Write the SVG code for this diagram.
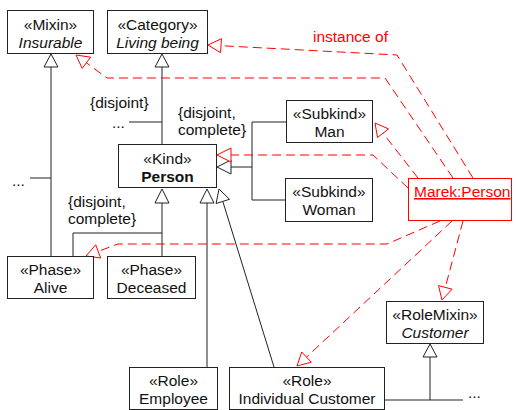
<svg xmlns="http://www.w3.org/2000/svg" width="516" height="410" viewBox="0 0 516 410">
<style>
  text { font-family: "Liberation Sans", Arial, sans-serif; font-size: 15.5px; fill: #111; }
  .c { text-anchor: middle; }
  .it { font-style: italic; }
  .b { font-weight: bold; }
  .box { fill: #fff; stroke: #222; stroke-width: 1; }
  .ln { fill: none; stroke: #222; stroke-width: 1; }
  .tri { fill: #fff; stroke: #222; stroke-width: 1; }
  .rd { fill: none; stroke: #ff0000; stroke-width: 1; stroke-dasharray: 9 5; }
  .rtri { fill: #fff; stroke: #ff0000; stroke-width: 1; }
  .red { fill: #ff0000; }
</style>
<rect width="516" height="410" fill="#fff"/>

<g id="connectors">
  <!-- generalizations -->
  <line class="ln" x1="51" y1="67" x2="51" y2="256"/>
  <line class="ln" x1="30" y1="178" x2="51" y2="178"/>
  <polygon class="tri" points="51,54 44,67 58,67"/>

  <line class="ln" x1="162" y1="67" x2="162" y2="144"/>
  <line class="ln" x1="129" y1="122" x2="162" y2="122"/>
  <polygon class="tri" points="162,54 155,67 169,67"/>

  <polyline class="ln" points="231,167 252,167"/>
  <line class="ln" x1="252" y1="122" x2="252" y2="200"/>
  <line class="ln" x1="252" y1="122" x2="286" y2="122"/>
  <line class="ln" x1="252" y1="200" x2="285" y2="200"/>
  <polygon class="tri" points="217,167 231,160 231,174"/>

  <line class="ln" x1="162" y1="203" x2="162" y2="256"/>
  <polyline class="ln" points="162,233 73,233 73,256"/>
  <polygon class="tri" points="162,189 155,203 169,203"/>

  <line class="ln" x1="207" y1="203" x2="207" y2="367"/>
  <polygon class="tri" points="207,189 200,203 214,203"/>

  <line class="ln" x1="222.8" y1="201.4" x2="274" y2="367"/>
  <polygon class="tri" points="219,189 216.1,203.5 229.5,199.3"/>

  <line class="ln" x1="430" y1="357" x2="430" y2="400"/>
  <line class="ln" x1="384" y1="400" x2="463" y2="400"/>
  <polygon class="tri" points="430,344 423,357 437,357"/>

  <!-- instance-of (red dashed) -->
  <polyline class="rd" points="473,178 397,55 221,45.7"/>
  <polygon class="rtri" points="208,45 220.6,52.7 221.4,38.7"/>

  <polyline class="rd" points="453,178 385,78 107,78 86.4,62.8"/>
  <polygon class="rtri" points="76,55 82.2,68.4 90.6,57.2"/>

  <line class="rd" x1="418" y1="178" x2="383" y2="133.2"/>
  <polygon class="rtri" points="375,123 377.5,137.5 388.5,128.9"/>

  <polyline class="rd" points="408,188 373,155 231,155"/>
  <polygon class="rtri" points="217,155 231,148 231,162"/>

  <polyline class="rd" points="440,221 387,244 118,244 98.2,251.4"/>
  <polygon class="rtri" points="86,256 95.7,244.8 100.7,258"/>

  <line class="rd" x1="452" y1="221" x2="306.5" y2="357.1"/>
  <polygon class="rtri" points="297,366 301.7,352 311.3,362.2"/>

  <line class="rd" x1="463" y1="221" x2="445.3" y2="287.4"/>
  <polygon class="rtri" points="442,300 438.5,285.6 452.1,289.2"/>
</g>

<g id="labels">
  <text x="313" y="42" class="red">instance of</text>
  <text x="90" y="108">{disjoint}</text>
  <text x="112" y="128">...</text>
  <text x="178" y="118">{disjoint,</text>
  <text x="178" y="135">complete}</text>
  <text x="68" y="207">{disjoint,</text>
  <text x="68" y="224">complete}</text>
  <text x="12" y="186">...</text>
  <text x="468" y="398">...</text>
</g>

<g id="mixin-insurable">
  <rect class="box" x="7.5" y="10.5" width="86" height="43"/>
  <text class="c" x="50.5" y="29.5">«Mixin»</text>
  <text class="c it" x="50.5" y="48">Insurable</text>
</g>
<g id="category-living-being">
  <rect class="box" x="107.5" y="10.5" width="100" height="43"/>
  <text class="c" x="157.5" y="29.5">«Category»</text>
  <text class="c it" x="157.5" y="48">Living being</text>
</g>
<g id="kind-person">
  <rect class="box" x="118.5" y="144.5" width="98" height="43"/>
  <text class="c" x="167.5" y="164">«Kind»</text>
  <text class="c b" x="167.5" y="182">Person</text>
</g>
<g id="subkind-man">
  <rect class="box" x="286.5" y="100.5" width="86" height="42"/>
  <text class="c" x="329.5" y="119">«Subkind»</text>
  <text class="c" x="329.5" y="137">Man</text>
</g>
<g id="subkind-woman">
  <rect class="box" x="285.5" y="178.5" width="87" height="43"/>
  <text class="c" x="329" y="197">«Subkind»</text>
  <text class="c" x="329" y="215">Woman</text>
</g>
<g id="marek-person">
  <rect x="408.5" y="178.5" width="103" height="42" fill="#fff" stroke="#ff0000" stroke-width="1"/>
  <text x="414" y="197" class="red" text-decoration="underline">Marek:Person</text>
</g>
<g id="phase-alive">
  <rect class="box" x="7.5" y="256.5" width="86" height="42"/>
  <text class="c" x="50.5" y="275">«Phase»</text>
  <text class="c" x="50.5" y="293">Alive</text>
</g>
<g id="phase-deceased">
  <rect class="box" x="107.5" y="256.5" width="88" height="42"/>
  <text class="c" x="151.5" y="275">«Phase»</text>
  <text class="c" x="151.5" y="293">Deceased</text>
</g>
<g id="rolemixin-customer">
  <rect class="box" x="386.5" y="301.5" width="97" height="42"/>
  <text class="c" x="435" y="320">«RoleMixin»</text>
  <text class="c it" x="435" y="338">Customer</text>
</g>
<g id="role-employee">
  <rect class="box" x="129.5" y="367.5" width="88" height="42"/>
  <text class="c" x="173.5" y="386">«Role»</text>
  <text class="c" x="173.5" y="404">Employee</text>
</g>
<g id="role-individual-customer">
  <rect class="box" x="229.5" y="367.5" width="155" height="42"/>
  <text class="c" x="307" y="386">«Role»</text>
  <text class="c" x="307" y="404">Individual Customer</text>
</g>
</svg>
